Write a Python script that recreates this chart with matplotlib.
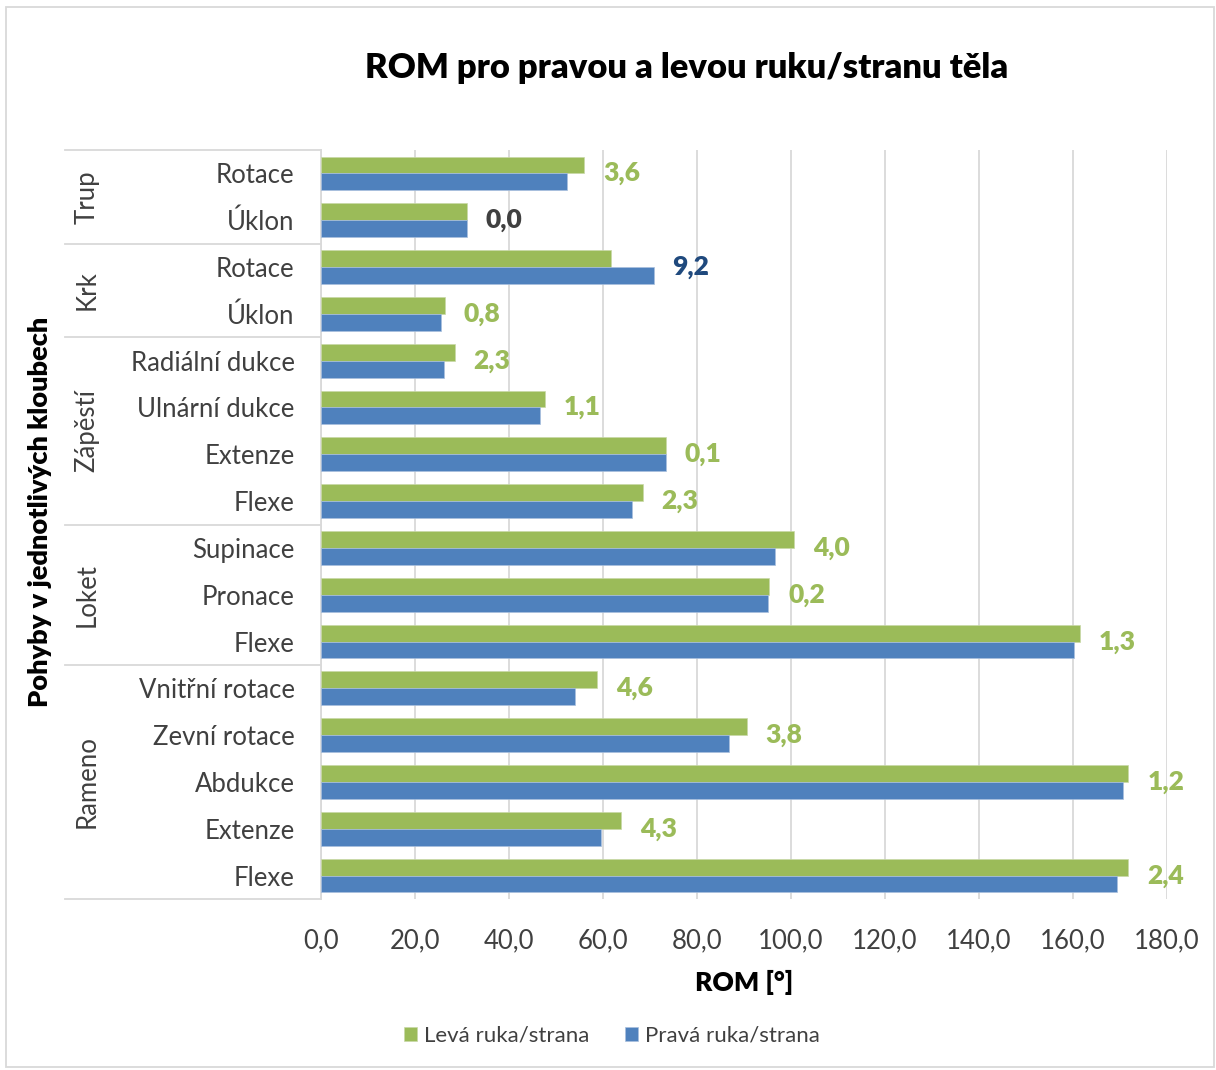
import matplotlib
matplotlib.use("Agg")
import matplotlib.pyplot as plt
import matplotlib.transforms as mtransforms
from matplotlib.patches import Rectangle
from matplotlib.ticker import FuncFormatter, MultipleLocator

plt.rcParams['font.family'] = ['Lato', 'DejaVu Sans']

# pohyby shora dolů
movements = ["Rotace", "Úklon",
             "Rotace", "Úklon",
             "Radiální dukce", "Ulnární dukce", "Extenze", "Flexe",
             "Supinace", "Pronace", "Flexe",
             "Vnitřní rotace", "Zevní rotace", "Abdukce", "Extenze", "Flexe"]
groups = ["Trup", "Krk", "Zápěstí", "Loket", "Rameno"]
group_sizes = [2, 2, 4, 3, 5]

left_rom = [56.0, 31.0, 61.6, 26.4, 28.5, 47.6, 73.4, 68.5,
            100.7, 95.4, 161.5, 58.7, 90.6, 171.8, 63.8, 171.8]
right_rom = [52.4, 31.0, 70.8, 25.6, 26.2, 46.5, 73.3, 66.2,
             96.7, 95.2, 160.2, 54.1, 86.8, 170.6, 59.5, 169.4]

GREEN = "#9BBB59"
BLUE = "#4F81BD"
DARK_BLUE = "#1F497D"
GRID = "#D9D9D9"
TXT = "#404040"

W, H = 1216, 1070
fig = plt.figure(figsize=(W / 100, H / 100), dpi=100)
ax = fig.add_axes([321 / W, 1 - 899 / H, (1167 - 321) / W, (899 - 150) / H])

n = len(movements)
pos = list(range(n))
bh = 0.36
ax.barh([p - bh / 2 for p in pos], left_rom, height=bh, color=GREEN,
        edgecolor="#C9D9A8", linewidth=0.5, label="Levá ruka/strana", zorder=3)
ax.barh([p + bh / 2 for p in pos], right_rom, height=bh, color=BLUE,
        edgecolor="#A9C0DE", linewidth=0.5, label="Pravá ruka/strana", zorder=3)

ax.set_xlim(0, 180)
ax.set_ylim(n - 0.5, -0.5)
ax.xaxis.set_major_locator(MultipleLocator(20))
ax.xaxis.set_major_formatter(FuncFormatter(lambda v, _: f"{v:.1f}".replace(".", ",")))
ax.grid(axis="x", color=GRID, linewidth=1.3, zorder=0)
ax.set_axisbelow(True)
for s in ["top", "right", "bottom"]:
    ax.spines[s].set_visible(False)
ax.spines["left"].set_color(GRID)
ax.spines["left"].set_linewidth(1.3)

ax.set_yticks(pos)
ax.set_yticklabels(movements, fontsize=18.5, color=TXT)
ax.tick_params(axis="y", length=0, pad=19)
ax.tick_params(axis="x", length=0, pad=21, labelsize=18.5, labelcolor=TXT)

ax.set_xlabel("ROM [°]", fontsize=19, fontweight="heavy", color="black", labelpad=12)

# rozdíl mezi stranami
for p, l, r in zip(pos, left_rom, right_rom):
    diff = round(abs(l - r), 1)
    if l > r:
        c = GREEN
    elif r > l:
        c = DARK_BLUE
    else:
        c = TXT
    ax.text(max(l, r) + 4.0, p, f"{diff:.1f}".replace(".", ","), color=c,
            fontsize=19, fontweight="heavy", va="center", ha="left")

# skupiny kloubů
trans = mtransforms.blended_transform_factory(ax.transAxes, ax.transData)
x_sep = (65 - 321) / (1167 - 321)
x_grp = (87 - 321) / (1167 - 321)
start = -0.5
ax.plot([x_sep, 0], [start, start], transform=trans, color=GRID, lw=1.3, clip_on=False)
for g, size in zip(groups, group_sizes):
    end = start + size
    ax.plot([x_sep, 0], [end, end], transform=trans, color=GRID, lw=1.3, clip_on=False)
    ax.text(x_grp, (start + end) / 2, g, transform=trans, rotation=90,
            ha="center", va="center", fontsize=18.5, color=TXT)
    start = end

fig.text(40 / W, 1 - 512 / H, "Pohyby v jednotlivých kloubech", rotation=90,
         ha="center", va="center", fontsize=19.5, fontweight="heavy", color="black")
fig.text(687 / W, 1 - 68 / H, "ROM pro pravou a levou ruku/stranu těla",
         ha="center", va="center", fontsize=24.8, fontweight="heavy", color="black")

fig.legend(loc="center", bbox_to_anchor=(612 / W, 1 - 1036 / H), ncol=2,
           frameon=False, fontsize=16, handlelength=0.6, handleheight=0.6,
           handletextpad=0.3, columnspacing=1.6, labelcolor=TXT)

fig.patches.append(Rectangle((6 / W, 3 / H), 1208 / W, 1060 / H, transform=fig.transFigure,
                             fill=False, edgecolor=GRID, linewidth=1.3))

fig.savefig("out.png", dpi=100, facecolor="white")
